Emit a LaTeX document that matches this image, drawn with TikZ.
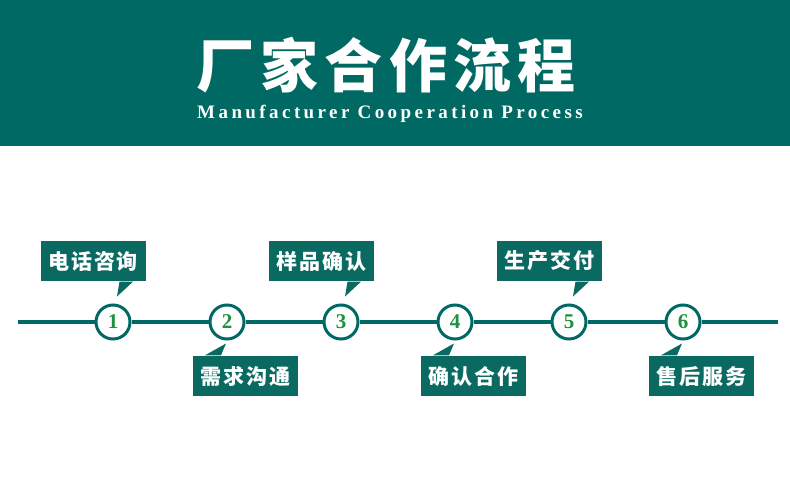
\documentclass[tikz,border=0pt]{standalone}
\usepackage{fontspec}
\usetikzlibrary{calc}
\newfontfamily\cjk{Noto Sans CJK SC}
\newfontfamily\titlecjk{Noto Sans CJK SC}[LetterSpace=11]
\newfontfamily\boxcjk{Noto Sans CJK SC}[LetterSpace=8]
\newfontfamily\subserif{Liberation Serif}[LetterSpace=18]
\newfontfamily\digitserif{Liberation Serif}
\definecolor{teal1}{HTML}{006963}
\definecolor{boxteal}{HTML}{0A6A61}
\definecolor{numgreen}{HTML}{1C9140}
\tikzset{
  stepnum/.style={circle, draw=teal1, line width=3pt, fill=white, minimum size=34pt, inner sep=0pt,
    text=numgreen, font=\digitserif\bfseries\fontsize{21}{21}\selectfont},
  labelbox/.style={fill=boxteal, text=white, minimum width=105pt, minimum height=40pt, inner sep=0pt,
    font=\boxcjk\bfseries\fontsize{21}{21}\selectfont},
  tailfill/.style={fill=boxteal},
  mainline/.style={draw=teal1, line width=4pt}
}
\begin{document}
\begin{tikzpicture}[x=1pt,y=-1pt]
\useasboundingbox (0,0) rectangle (790,500);
\fill[white] (0,0) rectangle (790,500);
\fill[teal1] (0,0) rectangle (790,146);
\node[text=white, font=\titlecjk\bfseries\fontsize{58}{58}\selectfont, inner sep=0pt] (title) at (386,65) {厂家合作流程};
\node[text=white, font=\subserif\bfseries\fontsize{19}{19}\selectfont, inner sep=0pt, anchor=base] (subtitle) at (390,119) {Manufacturer Cooperation Process};
% line
\coordinate (L) at (18,322);
\coordinate (R) at (778,322);
\foreach \i/\x in {1/113,2/227,3/341,4/455,5/569,6/683}{
  \node[stepnum] (c\i) at (\x,322) {\i};
}
\draw[mainline] (L) -- (c1) -- (c2) -- (c3) -- (c4) -- (c5) -- (c6) -- (R);
% top boxes
\foreach \i/\t in {1/电话咨询,3/样品确认,5/生产交付}{
  \node[labelbox] (b\i) at ($(c\i)+(-19.5,-61)$) {\t};
  \fill[tailfill] ($(b\i.south)+(26,0.5)$) -- ($(b\i.south)+(39.5,0.5)$) -- ($(c\i.north)+(4,-7)$) -- cycle;
}
% bottom boxes
\foreach \i/\t in {2/需求沟通,4/确认合作,6/售后服务}{
  \node[labelbox] (b\i) at ($(c\i)+(18.5,54)$) {\t};
  \fill[tailfill] ($(b\i.north)+(-40.5,-0.5)$) -- ($(b\i.north)+(-24.5,-0.5)$) -- ($(c\i.south)+(-1,3)$) -- cycle;
}
\end{tikzpicture}
\end{document}
